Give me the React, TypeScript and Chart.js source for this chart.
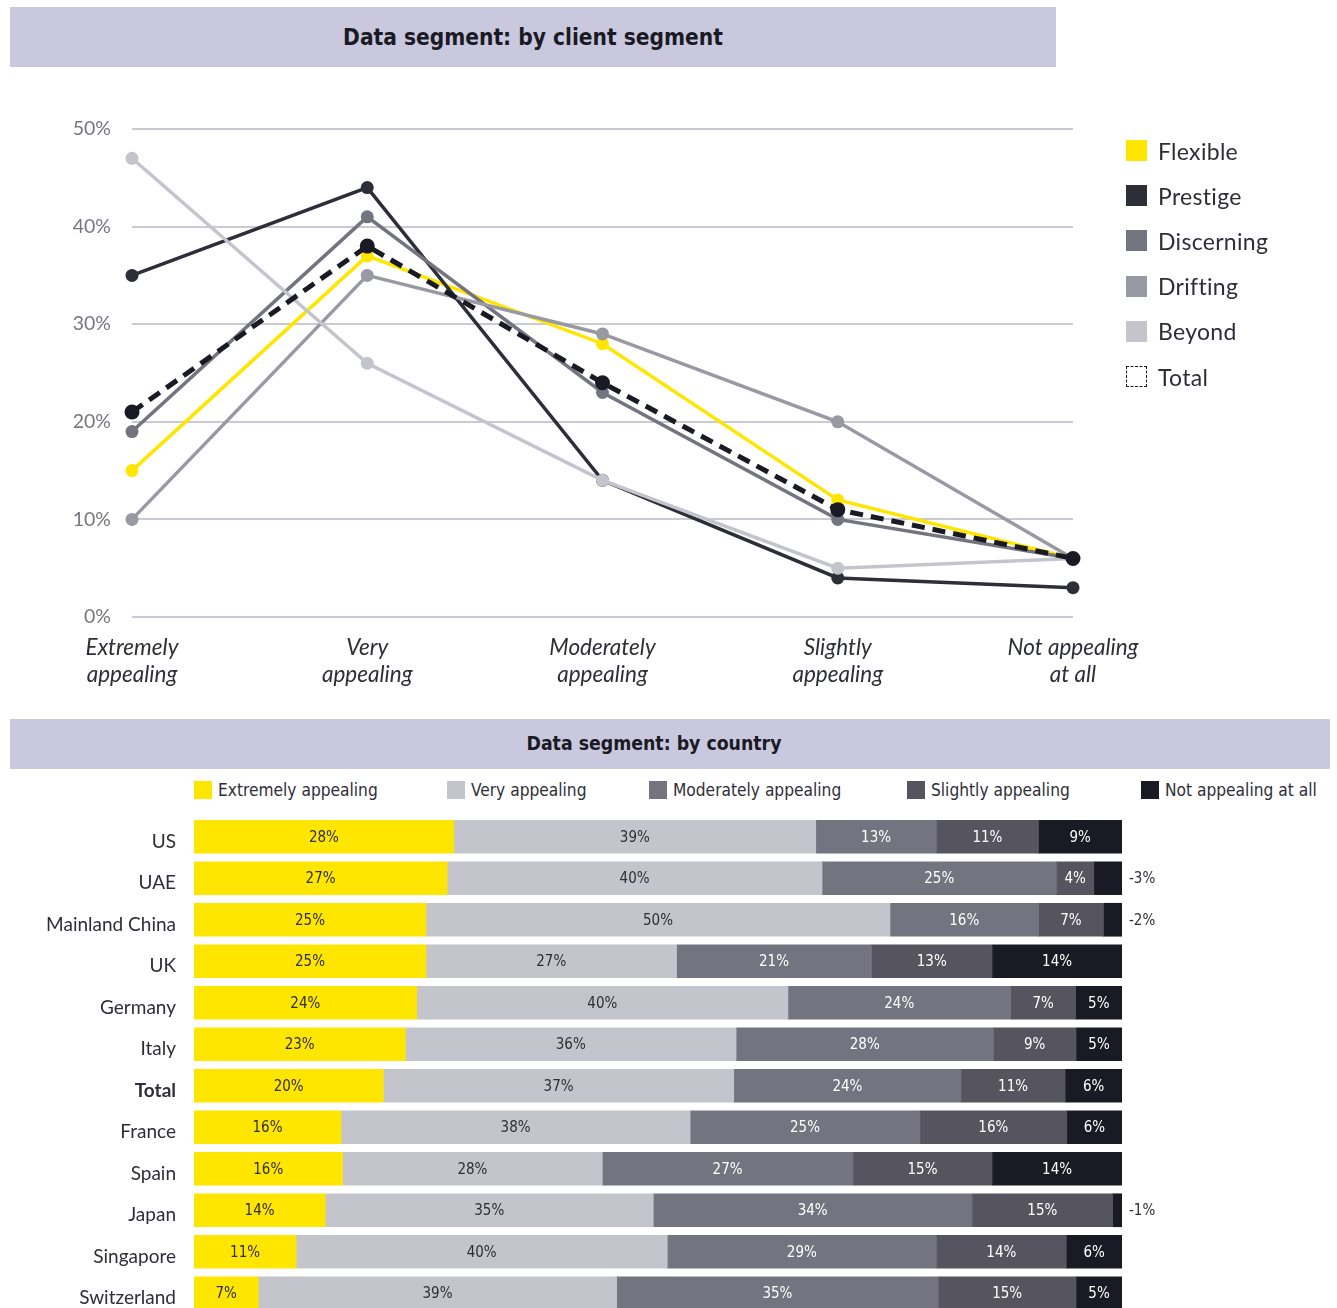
import React, { useEffect, useRef } from 'react';
import { Chart, registerables } from 'chart.js';

Chart.register(...registerables);

// ---------- Line chart data ----------
const lineCategories = [
  ['Extremely', 'appealing'],
  ['Very', 'appealing'],
  ['Moderately', 'appealing'],
  ['Slightly', 'appealing'],
  ['Not appealing', 'at all'],
];
const flexible = [15, 37, 28, 12, 6];
const prestige = [35, 44, 14, 4, 3];
const discerning = [19, 41, 23, 10, 6];
const drifting = [10, 35, 29, 20, 6];
const beyond = [47, 26, 14, 5, 6];
const totalSegment = [21, 38, 24, 11, 6];
const lineSeriesNames = ['Flexible', 'Prestige', 'Discerning', 'Drifting', 'Beyond', 'Total'];

// ---------- Bar chart data ----------
const countries = ['US', 'UAE', 'Mainland China', 'UK', 'Germany', 'Italy', 'Total', 'France', 'Spain', 'Japan', 'Singapore', 'Switzerland'];
const extremely = [28, 27, 25, 25, 24, 23, 20, 16, 16, 14, 11, 7];
const very = [39, 40, 50, 27, 40, 36, 37, 38, 28, 35, 40, 39];
const moderately = [13, 25, 16, 21, 24, 28, 24, 25, 27, 34, 29, 35];
const slightly = [11, 4, 7, 13, 7, 9, 11, 16, 15, 15, 14, 15];
const notAtAll = [9, 3, 2, 14, 5, 5, 6, 6, 14, 1, 6, 5];
const barSeriesNames = ['Extremely appealing', 'Very appealing', 'Moderately appealing', 'Slightly appealing', 'Not appealing at all'];

const YELLOW = '#FFE600';
const C_PRESTIGE = '#2E2E38';
const C_DISC = '#747480';
const C_DRIFT = '#9999A4';
const C_BEYOND = '#C4C4CD';
const C_TOTAL = '#1A1A24';
const C_SLIGHT = '#55545F';
const BANNER = '#C9C8DE';
const TEXT = '#2E2E38';

const CONDENSED = '"DejaVu Sans Condensed", "Liberation Sans Narrow", "DejaVu Sans", sans-serif';
const SANS = 'Lato, "Open Sans", sans-serif';

function LineChart() {
  const ref = useRef<HTMLCanvasElement | null>(null);
  useEffect(() => {
    if (!ref.current) return;
    const mk = (label: string, data: number[], color: string, order: number, extra: any = {}) => ({
      label,
      data,
      borderColor: color,
      backgroundColor: color,
      pointBackgroundColor: color,
      pointBorderColor: color,
      pointBorderWidth: 0,
      pointRadius: 6.5,
      pointHoverRadius: 6.5,
      borderWidth: 3.5,
      tension: 0,
      fill: false,
      clip: false,
      order,
      ...extra,
    });
    const chart = new Chart(ref.current, {
      type: 'line',
      data: {
        labels: lineCategories,
        datasets: [
          mk(lineSeriesNames[5], totalSegment, C_TOTAL, 0, { borderWidth: 5, borderDash: [13, 8], pointRadius: 7.5, pointHoverRadius: 7.5 }),
          mk(lineSeriesNames[0], flexible, YELLOW, 5),
          mk(lineSeriesNames[1], prestige, C_PRESTIGE, 4),
          mk(lineSeriesNames[2], discerning, C_DISC, 3),
          mk(lineSeriesNames[3], drifting, C_DRIFT, 2),
          mk(lineSeriesNames[4], beyond, C_BEYOND, 1),
        ] as any,
      },
      options: {
        responsive: false,
        animation: false,
        events: [],
        layout: { padding: { top: 29, right: 87, left: 0, bottom: 0 } },
        plugins: { legend: { display: false }, tooltip: { enabled: false } },
        scales: {
          x: {
            grid: { display: false, drawTicks: false },
            border: { display: false },
            ticks: {
              padding: 17,
              color: TEXT,
              autoSkip: false,
              maxRotation: 0,
              font: { family: SANS, size: 22.5, style: 'italic', lineHeight: 1.22 },
            },
            afterFit: (s: any) => {
              s.height = 83;
              s.paddingLeft = 0;
              s.paddingRight = 0;
            },
          },
          y: {
            min: 0,
            max: 50,
            ticks: {
              stepSize: 10,
              padding: 21,
              color: '#77767F',
              font: { family: SANS, size: 19.5 },
              callback: (v: any) => v + '%',
            },
            grid: { color: '#CBCAD4', lineWidth: 2, drawTicks: false },
            border: { display: false },
            afterFit: (s: any) => {
              s.width = 132;
              s.paddingTop = 0;
              s.paddingBottom = 0;
            },
          },
        },
      } as any,
    });
    return () => chart.destroy();
  }, []);
  return (
    <canvas
      ref={ref}
      width={1160}
      height={600}
      style={{ position: 'absolute', left: 0, top: 100, width: 1160, height: 600 }}
    />
  );
}

const barLabelPlugin = {
  id: 'barLabels',
  afterDatasetsDraw(chart: any) {
    const ctx = chart.ctx;
    const raws = [extremely, very, moderately, slightly, notAtAll];
    ctx.save();
    ctx.font = '15px ' + CONDENSED;
    ctx.textBaseline = 'middle';
    chart.data.datasets.forEach((_ds: any, d: number) => {
      const meta = chart.getDatasetMeta(d);
      meta.data.forEach((el: any, i: number) => {
        const raw = raws[d][i];
        const cx = (el.x + el.base) / 2;
        const cy = el.y + 1;
        if (d === 4 && raw <= 3) {
          ctx.fillStyle = TEXT;
          ctx.textAlign = 'left';
          ctx.fillText('-' + raw + '%', chart.chartArea.right + 7, cy);
        } else {
          ctx.fillStyle = d < 2 ? TEXT : '#FFFFFF';
          ctx.textAlign = 'center';
          ctx.fillText(raw + '%', cx, cy);
        }
      });
    });
    ctx.restore();
  },
};

function BarChart() {
  const ref = useRef<HTMLCanvasElement | null>(null);
  useEffect(() => {
    if (!ref.current) return;
    const series = [extremely, very, moderately, slightly, notAtAll];
    const colors = [YELLOW, C_BEYOND, C_DISC, C_SLIGHT, C_TOTAL];
    const rowSums = countries.map((_, i) => series.reduce((a, s) => a + s[i], 0));
    const chart = new Chart(ref.current, {
      type: 'bar',
      data: {
        labels: countries,
        datasets: series.map((s, d) => ({
          label: barSeriesNames[d],
          data: s.map((v, i) => (v / rowSums[i]) * 100),
          backgroundColor: colors[d],
          borderWidth: 0,
          barThickness: 33,
        })),
      },
      options: {
        indexAxis: 'y',
        responsive: false,
        animation: false,
        events: [],
        layout: { padding: { top: 11, right: 215, bottom: 11, left: 0 } },
        plugins: { legend: { display: false }, tooltip: { enabled: false } },
        scales: {
          x: { stacked: true, min: 0, max: 100, display: false },
          y: {
            stacked: true,
            grid: { display: false, drawTicks: false },
            border: { display: false },
            ticks: {
              padding: 18,
              labelOffset: 5,
              color: TEXT,
              font: (c: any) => ({ family: SANS, size: 19, weight: countries[c.index] === 'Total' ? 'bold' : 'normal' }),
            },
            afterFit: (s: any) => {
              s.width = 194;
              s.paddingTop = 0;
              s.paddingBottom = 0;
            },
          },
        },
      } as any,
      plugins: [barLabelPlugin],
    });
    return () => chart.destroy();
  }, []);
  return (
    <canvas
      ref={ref}
      width={1337}
      height={520}
      style={{ position: 'absolute', left: 0, top: 805, width: 1337, height: 520 }}
    />
  );
}

const lineLegendColors = [YELLOW, C_PRESTIGE, C_DISC, C_DRIFT, C_BEYOND, null];
const barLegendColors = [YELLOW, C_BEYOND, C_DISC, C_SLIGHT, C_TOTAL];
const barLegendX = [194, 447, 649, 907, 1141];

export default function App() {
  return (
    <div style={{ position: 'fixed', left: 0, top: 0, width: 1337, height: 1308, overflow: 'hidden', background: '#fff' }}>
      <div style={{ position: 'absolute', left: 10, top: 7, width: 1046, height: 60, background: BANNER }} />
      <div
        style={{
          position: 'absolute', left: 10, top: 7, width: 1046, height: 60, lineHeight: '60px', textAlign: 'center',
          fontFamily: CONDENSED, fontWeight: 'bold', fontSize: 22.5, color: C_TOTAL,
        }}
      >
        Data segment: by client segment
      </div>

      <LineChart />

      {lineSeriesNames.map((name, i) => (
        <div key={name} style={{ position: 'absolute', left: 1126, top: 128 + i * 45.2, height: 45, display: 'flex', alignItems: 'center' }}>
          <div
            style={{
              width: lineLegendColors[i] ? 21 : 19,
              height: lineLegendColors[i] ? 21 : 19,
              background: lineLegendColors[i] || 'transparent',
              border: lineLegendColors[i] ? 'none' : '1px dashed ' + C_TOTAL,
              marginRight: 11,
            }}
          />
          <span style={{ fontFamily: SANS, fontSize: 23, color: TEXT, letterSpacing: 0.3 }}>{name}</span>
        </div>
      ))}

      <div style={{ position: 'absolute', left: 10, top: 719, width: 1320, height: 50, background: BANNER }} />
      <div
        style={{
          position: 'absolute', left: 354, top: 719, width: 600, height: 50, lineHeight: '50px', textAlign: 'center',
          fontFamily: CONDENSED, fontWeight: 'bold', fontSize: 19.3, color: C_TOTAL,
        }}
      >
        Data segment: by country
      </div>

      {barSeriesNames.map((name, i) => (
        <div key={name} style={{ position: 'absolute', left: barLegendX[i], top: 778, height: 24, display: 'flex', alignItems: 'center' }}>
          <div style={{ width: 18, height: 18, background: barLegendColors[i], marginRight: 6 }} />
          <span style={{ fontFamily: CONDENSED, fontSize: 17.2, color: TEXT }}>{name}</span>
        </div>
      ))}

      <BarChart />
    </div>
  );
}
